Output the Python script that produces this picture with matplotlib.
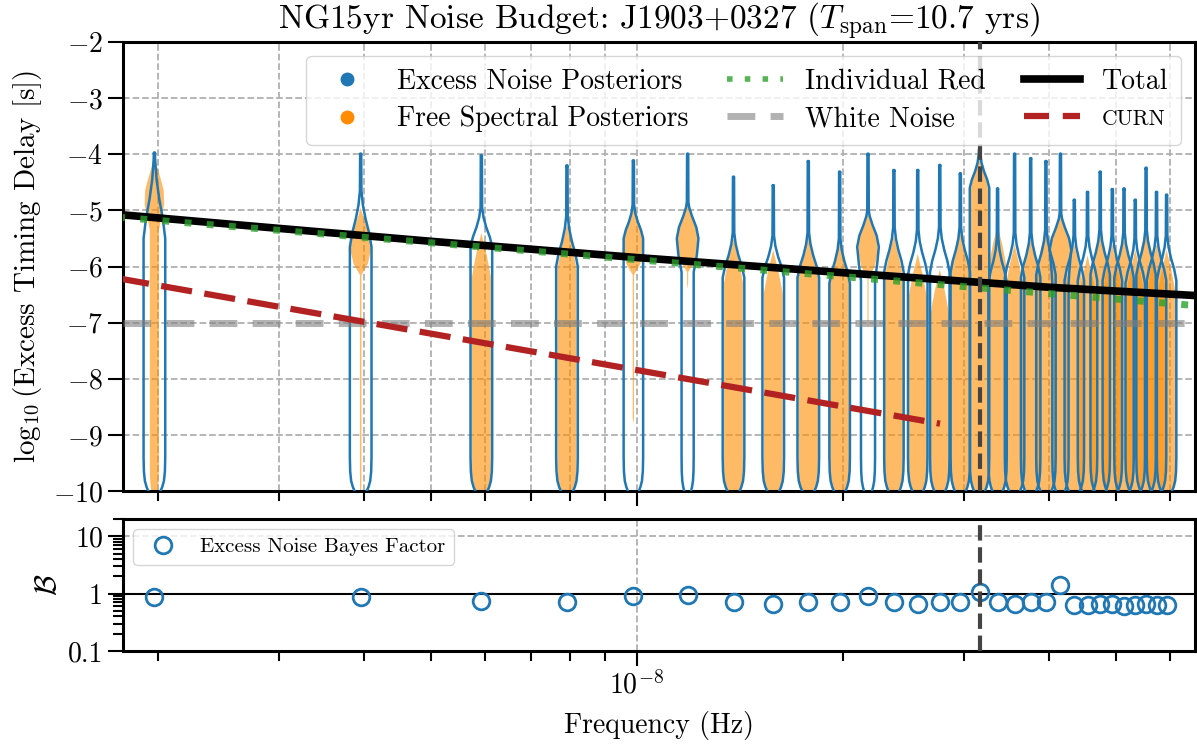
import numpy as np
import matplotlib
matplotlib.use('Agg')
import matplotlib.pyplot as plt
from matplotlib.lines import Line2D
from matplotlib.ticker import FixedLocator, NullFormatter, LogLocator

plt.rcParams['font.family'] = 'serif'
plt.rcParams['font.serif'] = ['cmr10']
plt.rcParams['mathtext.fontset'] = 'cm'
plt.rcParams['axes.formatter.use_mathtext'] = True

# frequency bins (nHz), k / 16.03 yr
freq_nhz = [1.977, 3.954, 5.931, 7.908, 9.885, 11.862, 13.839, 15.816, 17.793, 19.770,
            21.747, 23.724, 25.701, 27.678, 29.655, 31.632, 33.609, 35.586, 37.563, 39.540,
            41.517, 43.494, 45.471, 47.448, 49.425, 51.402, 53.379, 55.356, 57.333, 59.310]
freqs = np.array(freq_nhz) * 1e-9
f_1yr = 3.169e-8

# excess noise (blue) violins: top of spike, flare start, flare end, body width, bulge?
blue_top = [-4.00, -4.02, -4.05, -4.23, -4.14, -4.02, -4.43, -4.58, -4.15, -4.34,
            -4.02, -4.31, -4.31, -4.22, -4.37, -3.95, -4.64, -4.02, -4.10, -4.15,
            -4.02, -4.84, -4.70, -4.34, -4.65, -4.64, -4.84, -4.27, -4.70, -4.75]
blue_fs = [-4.10, -4.65, -4.95, -5.10, -4.90, -4.85, -5.40, -5.45, -5.40, -5.50,
           -5.00, -5.30, -5.35, -5.30, -5.30, -4.00, -5.50, -5.40, -5.40, -5.35,
           -5.05, -5.45, -5.45, -5.35, -5.45, -5.40, -5.50, -5.35, -5.45, -5.45]
blue_fe = [-5.50, -5.65, -5.65, -6.00, -5.50, -5.50, -6.20, -6.20, -6.20, -6.30,
           -5.65, -6.10, -6.15, -6.10, -6.10, -4.60, -6.30, -6.20, -6.20, -6.15,
           -5.70, -6.25, -6.25, -6.15, -6.25, -6.20, -6.30, -6.15, -6.25, -6.25]
blue_body = [1.0, 1.0, 1.0, 1.0, 0.9, 0.56, 1.0, 1.0, 1.0, 0.95,
             0.65, 0.9, 0.9, 0.9, 0.9, 0.9, 0.85, 0.9, 0.9, 0.9,
             0.75, 0.9, 0.9, 0.9, 0.9, 0.9, 0.9, 0.9, 0.9, 0.9]
blue_bulge = [0, 0, 0, 0, 0, 1, 0, 0, 0, 0,
              1, 0, 0, 0, 0, 0, 0, 0, 0, 0,
              1, 0, 0, 0, 0, 0, 0, 0, 0, 0]

# free spectral (orange) violins: top, body width, bulge centre/width, body bottom
orange_top = [-4.00, -4.95, -5.40, -5.25, -4.87, -4.82, -5.50, -5.70, -5.40, -5.50,
              -5.05, -5.45, -5.77, -6.05, -5.35, -3.95, -5.25, -5.60, -5.50, -5.30,
              -5.05, -5.60, -5.80, -5.40, -5.60, -5.50, -5.70, -5.30, -5.60, -5.70]
orange_body = [0.42, 0.07, 0.88, 0.88, 0.06, 0.05, 0.88, 0.88, 0.90, 0.90,
               0.05, 0.88, 0.85, 0.85, 0.90, 0.90, 0.85, 0.85, 0.85, 0.85,
               0.60, 0.85, 0.85, 0.85, 0.85, 0.85, 0.85, 0.85, 0.85, 0.85]
orange_bulge_c = [-4.80, -5.60, None, None, -5.60, -5.55, None, None, None, None,
                  -5.65, None, None, None, None, None, None, None, None, None,
                  -5.70, None, None, None, None, None, None, None, None, None]
orange_bulge_w = [0.90, 0.95, 0, 0, 0.93, 0.95, 0, 0, 0, 0,
                  0.90, 0, 0, 0, 0, 0, 0, 0, 0, 0,
                  0.95, 0, 0, 0, 0, 0, 0, 0, 0, 0]
orange_bottom = [-10, -10, -10, -10, -8.8, -6.4, -10, -10, -10, -10,
                 -7.1, -10, -10, -10, -10, -10, -10, -10, -10, -10,
                 -10, -10, -10, -10, -10, -10, -10, -10, -10, -10]

# model curves, log10 delay read at a few frequencies
red_f = [1.75e-9, 6.6e-8]
red_v = [-5.12, -6.70]
total_f = [1.78e-9, 3e-9, 5e-9, 1e-8, 2e-8, 4e-8, 6.6e-8]
total_v = [-5.08, -5.32, -5.55, -5.84, -6.11, -6.37, -6.52]
curn_f = [1.75e-9, 2.77e-8]
curn_v = [-6.21, -8.80]
white_level = -7.0

# Bayes factors
bayes = [0.89, 0.86, 0.73, 0.70, 0.91, 0.94, 0.70, 0.65, 0.70, 0.70,
         0.91, 0.70, 0.65, 0.70, 0.70, 1.05, 0.70, 0.65, 0.70, 0.70,
         1.40, 0.64, 0.64, 0.66, 0.66, 0.60, 0.64, 0.66, 0.64, 0.64]

HW = 0.0158  # max violin half width in decades


def blue_profile(top, fs, fe, body, bulge):
    pts = [(-10.05, 0.45 * body), (-9.93, 0.72 * body), (-9.82, 0.88 * body),
           (-9.65, 0.97 * body), (-9.4, body)]
    if bulge:
        c = fe
        pts += [(c - 0.6, body), (c - 0.3, 0.85), (c, 1.0), (c + 0.2, 0.8),
                (c + 0.4, 0.4), (c + 0.55, 0.15), (fs, 0.07)]
    else:
        d = fs - fe
        pts += [(fe, body), (fe + 0.25 * d, 0.78 * body), (fe + 0.5 * d, 0.45 * body),
                (fe + 0.75 * d, 0.2 * body), (fs, 0.07)]
    pts += [(top + 0.03, 0.05), (top, 0.0)]
    return np.array(pts)


def orange_profile(top, body, c, w, bottom):
    if bottom <= -10:
        pts = [(-10.05, 0.6 * body), (-9.9, 0.85 * body), (-9.75, 0.97 * body), (-9.6, body)]
    else:
        pts = [(bottom, 0.0), (bottom + 0.1, body)]
    if c is None:
        pts += [(top - 0.8, body), (top - 0.6, 0.8 * body), (top - 0.35, 0.5 * body),
                (top - 0.15, 0.2 * body), (top, 0.0)]
    else:
        u = top - c
        pts += [(c - 0.55, body), (c - 0.35, max(body, 0.7 * w)), (c - 0.1, w),
                (c + 0.2 * u, 0.95 * w), (c + 0.45 * u, 0.65 * w),
                (c + 0.7 * u, 0.3 * w), (c + 0.9 * u, 0.1 * w), (top, 0.0)]
    return np.array(pts)


fig = plt.figure(figsize=(11.97, 7.45), dpi=100)
ax1 = fig.add_axes([0.1028, 0.3409, 0.8955, 0.6027])
ax2 = fig.add_axes([0.1028, 0.1262, 0.8955, 0.1772], sharex=ax1)

for i, f in enumerate(freqs):
    p = orange_profile(orange_top[i], orange_body[i], orange_bulge_c[i],
                       orange_bulge_w[i], orange_bottom[i])
    ax1.fill_betweenx(p[:, 0], f * 10 ** (-HW * p[:, 1]), f * 10 ** (HW * p[:, 1]),
                      facecolor='darkorange', alpha=0.6, lw=0, zorder=2)
for i, f in enumerate(freqs):
    p = blue_profile(blue_top[i], blue_fs[i], blue_fe[i], blue_body[i], blue_bulge[i])
    ax1.fill_betweenx(p[:, 0], f * 10 ** (-HW * p[:, 1]), f * 10 ** (HW * p[:, 1]),
                      facecolor='none', edgecolor='#1f77b4', lw=1.8, zorder=3)

ax1.axhline(white_level, color='gray', alpha=0.6, lw=5, ls=(0, (4, 2.2)), zorder=4)
ax1.plot(curn_f, curn_v, color='#b22222', lw=4.5, ls=(0, (5, 2)), zorder=4)
ax1.plot(total_f, total_v, color='k', lw=5.5, zorder=5)
ax1.plot(red_f, red_v, color='tab:green', alpha=0.8, lw=5, ls=(0, (1, 2.2)), zorder=6)
ax1.axvline(f_1yr, color='#444444', lw=3, ls='--', zorder=7)

ax1.set_xscale('log')
ax1.set_xlim(0.9 * freqs[0], 1.1 * freqs[-1])
ax1.set_ylim(-10, -2)
ax1.set_yticks(np.arange(-10, -1, 1))
ax1.xaxis.set_major_locator(FixedLocator([1e-8]))
ax1.grid(True, which='both', axis='x', ls='--', color='#b0b0b0', lw=1.3)
ax1.grid(True, which='major', axis='y', ls='--', color='#b0b0b0', lw=1.3)
ax1.tick_params(labelbottom=False)
ax1.tick_params(which='major', length=11, width=1.5, labelsize=20)
ax1.tick_params(which='minor', length=7, width=1.5)
ax1.set_ylabel(r'$\log_{10}$(Excess Timing Delay [s])', fontsize=21, labelpad=6)
ax1.set_title(r'NG15yr Noise Budget: J1903+0327 ($T_{\rm span}$=10.7 yrs)', fontsize=24, pad=5)

handles = [Line2D([], [], marker='o', ls='none', color='#1f77b4', markersize=9),
           Line2D([], [], marker='o', ls='none', color='darkorange', markersize=9),
           Line2D([], [], color='tab:green', alpha=0.8, lw=4, ls=(0, (1, 2.2))),
           Line2D([], [], color='gray', alpha=0.6, lw=5, ls=(0, (4, 2.2))),
           Line2D([], [], color='k', lw=5.5),
           Line2D([], [], color='#b22222', lw=4.5, ls=(0, (4, 2.2)))]
labels = ['Excess Noise Posteriors', 'Free Spectral Posteriors', 'Individual Red',
          'White Noise', 'Total', 'CURN']
leg = ax1.legend(handles, labels, ncol=3, loc='upper right', fontsize=20,
                 framealpha=0.8, borderpad=0.45, columnspacing=1.4, labelspacing=0.4)
leg.get_texts()[5].set_fontsize(15.5)
leg.set_zorder(10)

ax2.plot(freqs, bayes, 'o', mfc='none', mec='#1f77b4', mew=2, ms=12,
         label='Excess Noise Bayes Factor', zorder=3)
ax2.axhline(1, color='k', lw=1.5, zorder=2)
ax2.axvline(f_1yr, color='#444444', lw=3, ls='--', zorder=4)
ax2.set_yscale('log')
ax2.set_ylim(0.1, 20)
ax2.set_yticks([0.1, 1, 10])
ax2.set_yticklabels(['0.1', '1', '10'])
ax2.yaxis.set_minor_locator(LogLocator(base=10, subs=np.arange(2, 10)))
ax2.yaxis.set_minor_formatter(NullFormatter())
ax2.xaxis.set_major_locator(FixedLocator([1e-8]))
ax2.xaxis.set_minor_formatter(NullFormatter())
ax2.grid(True, which='major', ls='--', color='#b0b0b0', lw=1.3)
ax2.tick_params(which='major', length=11, width=1.5, labelsize=20)
ax2.tick_params(which='minor', length=7, width=1.5)
ax2.set_ylabel(r'$\mathcal{B}$', fontsize=22)
ax2.set_xlabel('Frequency (Hz)', fontsize=20, labelpad=8)
leg2 = ax2.legend(loc='upper left', fontsize=15, framealpha=0.8)
leg2.set_zorder(10)

for ax in (ax1, ax2):
    for s in ax.spines.values():
        s.set_linewidth(2.2)

fig.savefig('out.png', dpi=100)
